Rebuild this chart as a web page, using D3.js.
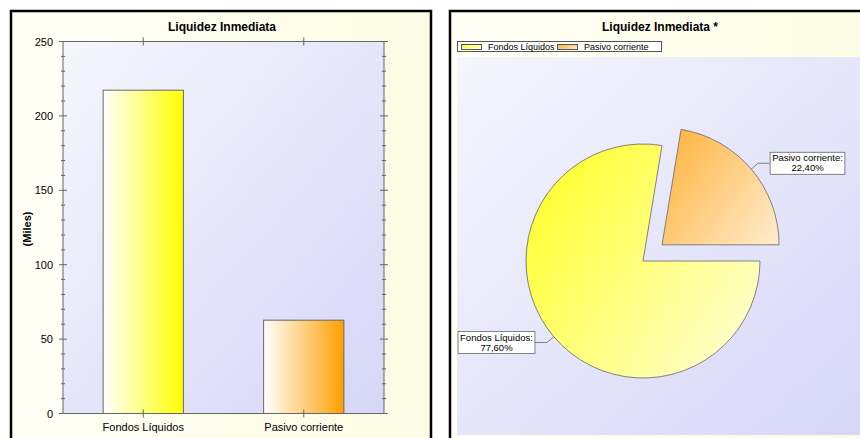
<!DOCTYPE html>
<html lang="es">
<head>
<meta charset="utf-8">
<title>Liquidez Inmediata</title>
<script src="https://d3js.org/d3.v7.min.js"></script>
<style>
  body { margin: 0; background: #fff; }
  svg { display: block; font-family: "Liberation Sans", Arial, sans-serif; }
</style>
</head>
<body>
<div id="chart"></div>
<script>
// data
let categories = ["Fondos Líquidos", "Pasivo corriente"];
let values = [217.28, 62.72];     // miles
let yTicks = [0, 50, 100, 150, 200, 250];
let barColors = ["#ffff00", "#ffa000"];
let pieLight = ["#ffffd2", "#ffe9c6"];
let pieDark = ["#ffff2a", "#ffb440"];

let W = 860, H = 438;
let svg = d3.select("#chart").append("svg")
  .attr("width", W).attr("height", H);
let defs = svg.append("defs");

function lin(id, x1, y1, x2, y2, stops) {
  let g = defs.append("linearGradient").attr("id", id)
    .attr("x1", x1).attr("y1", y1).attr("x2", x2).attr("y2", y2);
  stops.forEach(s => g.append("stop").attr("offset", s[0]).attr("stop-color", s[1]));
}
lin("panelBg", 0, 0, 1, 0, [[0, "#fffff6"], [1, "#fcfce4"]]);
lin("plotBg", 0, 0, 1, 1, [[0, "#f6f6fd"], [1, "#d6d6f8"]]);
barColors.forEach((c, i) => lin("bar" + i, 0, 0, 1, 0, [[0, "#ffffff"], [1, c]]));
pieDark.forEach((c, i) => lin("pie" + i, 0, 0.15, 1, 0.85, [[0, c], [1, pieLight[i]]]));

// panels
[[11, 11], [450, 11]].forEach(p => {
  svg.append("rect").attr("x", p[0]).attr("y", p[1])
    .attr("width", 420).attr("height", 440)
    .attr("fill", "url(#panelBg)").attr("stroke", "#000").attr("stroke-width", 2.5);
});

// ---------- bar chart ----------
let px0 = 63, px1 = 384, py0 = 41.5, py1 = 413.5;
let x = d3.scaleBand().domain(categories).range([px0, px1])
  .paddingInner(0.5).paddingOuter(0.25);
let y = d3.scaleLinear().domain([0, 250]).range([py1, py0]);

svg.append("text").attr("x", 222).attr("y", 31).attr("text-anchor", "middle")
  .attr("font-size", 12).attr("font-weight", "bold").text("Liquidez Inmediata");

svg.append("rect").attr("x", px0).attr("y", py0)
  .attr("width", px1 - px0).attr("height", py1 - py0)
  .attr("fill", "url(#plotBg)");

svg.selectAll(".bar").data(values).enter().append("rect")
  .attr("class", "bar")
  .attr("x", (d, i) => x(categories[i]))
  .attr("y", d => y(d))
  .attr("width", x.bandwidth())
  .attr("height", d => y(0) - y(d))
  .attr("fill", (d, i) => "url(#bar" + i + ")")
  .attr("stroke", "#666").attr("stroke-width", 1);

svg.append("rect").attr("x", px0).attr("y", py0)
  .attr("width", px1 - px0).attr("height", py1 - py0)
  .attr("fill", "none").attr("stroke", "#666").attr("stroke-width", 1);

// y axes, ticks crossing the frame
let minor = d3.range(0, 251, 10);
[px0, px1].forEach(ax => {
  svg.append("g").selectAll("line").data(minor).enter().append("line")
    .attr("x1", d => ax - (d % 50 ? 2 : 4)).attr("x2", d => ax + (d % 50 ? 2 : 4))
    .attr("y1", d => y(d)).attr("y2", d => y(d))
    .attr("stroke", "#666");
});
let yAxis = d3.axisLeft(y).tickValues(yTicks).tickSize(0).tickPadding(10);
let gy = svg.append("g").attr("transform", `translate(${px0},0)`).call(yAxis);
gy.select(".domain").remove();
gy.selectAll("text").attr("font-size", 11).attr("fill", "#000")
  .attr("font-family", "Liberation Sans, Arial, sans-serif");

// category ticks top and bottom
[py0, py1].forEach(ay => {
  svg.append("g").selectAll("line").data(categories).enter().append("line")
    .attr("x1", d => x(d) + x.bandwidth() / 2).attr("x2", d => x(d) + x.bandwidth() / 2)
    .attr("y1", ay - 4).attr("y2", ay + 4).attr("stroke", "#666");
});
let xAxis = d3.axisBottom(x).tickSize(0).tickPadding(10);
let gx = svg.append("g").attr("transform", `translate(0,${py1})`).call(xAxis);
gx.select(".domain").remove();
gx.selectAll("text").attr("font-size", 11).attr("fill", "#000")
  .attr("font-family", "Liberation Sans, Arial, sans-serif");

svg.append("text").attr("transform", "translate(31,229) rotate(-90)")
  .attr("text-anchor", "middle").attr("font-size", 11).attr("font-weight", "bold")
  .text("(Miles)");

// ---------- pie chart ----------
svg.append("text").attr("x", 660).attr("y", 31).attr("text-anchor", "middle")
  .attr("font-size", 12).attr("font-weight", "bold").text("Liquidez Inmediata *");

svg.append("rect").attr("x", 457).attr("y", 57).attr("width", 410).attr("height", 378)
  .attr("fill", "url(#plotBg)");

// legend
let lg = svg.append("g");
lg.append("rect").attr("x", 457.5).attr("y", 41.5).attr("width", 204).attr("height", 10)
  .attr("fill", "#fff").attr("stroke", "#555");
let legX = [461, 557];
categories.forEach((c, i) => {
  lg.append("rect").attr("x", legX[i] + 0.5).attr("y", 44.5).attr("width", 20).attr("height", 5)
    .attr("fill", "url(#pie" + i + ")").attr("stroke", "#555");
  lg.append("text").attr("x", legX[i] + 27).attr("y", 49.5)
    .attr("font-size", 9).text(c);
});

let cx = 643, cy = 261, R = 117, explode = 25;
let total = d3.sum(values);
let pie = d3.pie().sort(null).startAngle(Math.PI / 2).endAngle(Math.PI / 2 + 2 * Math.PI);
let arc = d3.arc().innerRadius(0).outerRadius(R);
let slices = pie(values);

let pg = svg.append("g").attr("transform", `translate(${cx},${cy})`);
slices.forEach((s, i) => {
  let mid = (s.startAngle + s.endAngle) / 2;
  let off = i === 1 ? explode : 0;
  let ox = off * Math.sin(mid), oy = -off * Math.cos(mid);
  let g = pg.append("g").attr("transform", `translate(${ox},${oy})`);
  g.append("path").attr("d", arc(s))
    .attr("fill", "url(#pie" + i + ")").attr("stroke", "#666").attr("stroke-width", 0.8);

  // leader + label
  let sx = Math.sin(mid), sy = -Math.cos(mid);
  let p1 = [R * sx, R * sy], p2 = [(R + 9) * sx, (R + 9) * sy];
  let dir = sx >= 0 ? 1 : -1;
  let p3 = [p2[0] + dir * 12, p2[1]];
  g.append("polyline").attr("points", [p1, p2, p3].map(p => p.join(",")).join(" "))
    .attr("fill", "none").attr("stroke", "#666").attr("stroke-width", 0.8);

  let pct = (values[i] / total * 100).toFixed(2).replace(".", ",") + "%";
  let lines = [categories[i] + ":", pct];
  let lb = g.append("g");
  let box = lb.append("rect").attr("fill", "#fff").attr("stroke", "#666").attr("stroke-width", 0.8);
  let t = lb.append("text").attr("font-size", 9.5).attr("text-anchor", "middle");
  lines.forEach((l, k) => t.append("tspan").attr("x", 0).attr("dy", k ? 10 : 0).text(l));
  let bw = d3.max(t.selectAll("tspan").nodes(), n => n.getComputedTextLength()) + 4;
  let bh = 22;
  let bx = dir > 0 ? p3[0] : p3[0] - bw;
  let by = p3[1] - bh / 2;
  box.attr("x", bx).attr("y", by).attr("width", bw).attr("height", bh);
  t.attr("transform", `translate(${bx + bw / 2},${by + 9})`);
});
</script>
</body>
</html>
